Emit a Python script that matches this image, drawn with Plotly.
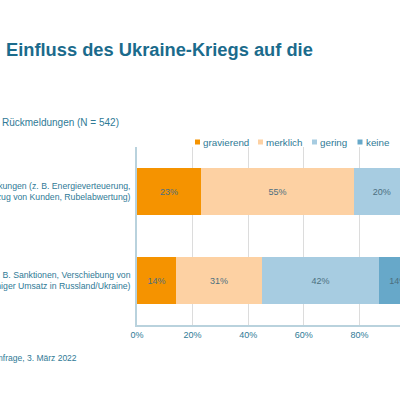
import plotly.graph_objects as go

categories = [
    "Indirekte Auswirkungen (z. B. Energieverteuerung,<br>Zahlungsverzug von Kunden, Rubelabwertung)",
    "Direkte Auswirkungen (z. B. Sanktionen, Verschiebung von<br>Lieferketten, weniger Umsatz in Russland/Ukraine)",
]
series_names = ["gravierend", "merklich", "gering", "keine"]
gravierend = [23, 14]
merklich = [55, 31]
gering = [20, 42]
keine = [2, 14]
values = [gravierend, merklich, gering, keine]
colors = ["#F59300", "#FDD1A3", "#A7CCE1", "#67A8C9"]
tick_vals = [0, 20, 40, 60, 80, 100]
tick_text = ["0%", "20%", "40%", "60%", "80%", "100%"]

TEAL = "#1B6B8C"
TXT = "#2F7A96"
FONT = "Liberation Sans, Arial, sans-serif"

L, R_PX, T, B = 137, 400, 147, 325  # plot area in pixels
PW, PH = R_PX - L, B - T


def px(x):
    return (x - L) / PW


def py(y):
    return (B - y) / PH


fig = go.Figure()
for name, vals, col in zip(series_names, values, colors):
    fig.add_trace(go.Bar(
        y=categories, x=vals, name=name, orientation="h",
        marker=dict(color=col, line=dict(width=0)),
        text=[f"{v}%" for v in vals], textposition="inside",
        insidetextanchor="middle", textangle=0,
        textfont=dict(color="#4C6F80", size=9, family=FONT),
        showlegend=False,
    ))

# custom legend
leg_x = [195, 258, 312, 357.5]
for name, col, lx in zip(series_names, colors, leg_x):
    fig.add_shape(type="rect", xref="paper", yref="paper",
                  x0=px(lx), x1=px(lx + 5), y0=py(144.5), y1=py(139.5),
                  fillcolor=col, line=dict(width=0))
    fig.add_annotation(xref="paper", yref="paper", x=px(lx + 6), y=py(142),
                       text=name, showarrow=False, xanchor="left", yanchor="middle",
                       font=dict(color=TXT, size=9.8, family=FONT))

fig.add_annotation(xref="paper", yref="paper", x=px(0), y=py(122),
                   text="Rückmeldungen (N = 542)", showarrow=False,
                   xanchor="left", yanchor="middle",
                   font=dict(color=TXT, size=10, family=FONT))
fig.add_annotation(xref="paper", yref="paper", x=px(79), y=py(358),
                   text="Blitzumfrage, 3. März 2022", showarrow=False,
                   xanchor="right", yanchor="middle",
                   font=dict(color=TXT, size=8.5, family=FONT))

fig.update_layout(
    width=400, height=395,
    margin=dict(l=L, r=400 - R_PX, t=T, b=395 - B, autoexpand=False),
    barmode="stack", bargap=0.47,
    plot_bgcolor="white", paper_bgcolor="white",
    title=dict(text="<b>Einfluss des Ukraine-Kriegs auf die</b>", x=0, xanchor="left",
               xref="container", pad=dict(l=6),
               y=1 - 50 / 395, yanchor="middle",
               font=dict(color=TEAL, size=18.3, family=FONT)),
    xaxis=dict(range=[0, PW / 2.78], tickvals=tick_vals, ticktext=tick_text,
               showgrid=True, gridcolor="#DCDCDC", gridwidth=1,
               showline=True, linecolor="#B9D2DD", linewidth=1.5,
               zeroline=False, ticks="", automargin=False,
               tickfont=dict(color=TXT, size=9, family=FONT)),
    yaxis=dict(autorange="reversed", showline=True, linecolor="#B9D2DD", linewidth=1.5,
               ticks="", ticklabelstandoff=3, automargin=False,
               tickfont=dict(color=TXT, size=8.7, family=FONT)),
    showlegend=False,
)

fig.write_html(
    "out.html",
    config={"displayModeBar": False},
    post_script="document.body.style.margin='0';document.body.style.overflow='hidden';",
)
